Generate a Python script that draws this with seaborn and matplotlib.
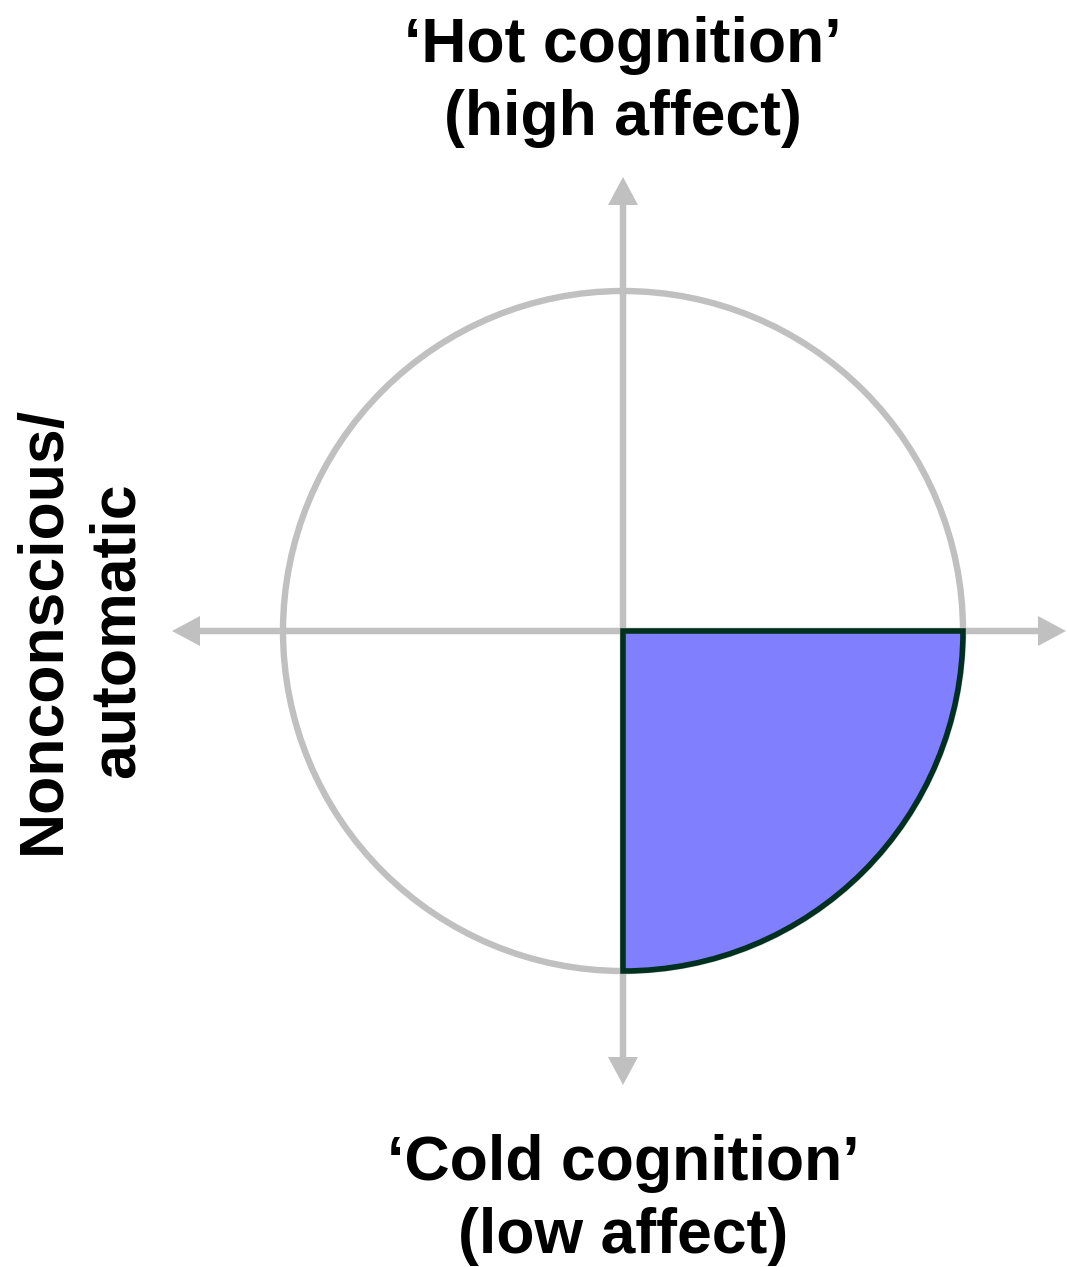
import matplotlib
matplotlib.use("Agg")
import matplotlib.pyplot as plt
import seaborn as sns
from matplotlib.patches import Circle, Wedge, FancyArrow

sns.set_theme(style="white")
plt.rcParams['font.family'] = ['Liberation Sans', 'DejaVu Sans']

# Diagram content
axis_labels_top = ["\u2018Hot cognition\u2019", "(high affect)"]
axis_labels_bottom = ["\u2018Cold cognition\u2019", "(low affect)"]
axis_labels_left = ["Nonconscious/", "automatic"]
highlight_quadrant = [270, 360]  # degrees of the highlighted wedge

W, H = 1067, 1267
fig = plt.figure(figsize=(W / 100, H / 100), dpi=100)
ax = fig.add_axes([0, 0, 1, 1])
cx, cy, R = 623, 631, 340
ax.set_xlim((0 - cx) / R, (W - cx) / R)
ax.set_ylim((cy - H) / R, cy / R)
ax.set_aspect('equal')
ax.axis('off')

gray = '#c0c0c0'
lw = 4.6

# circle
ax.add_patch(Circle((0, 0), 1.0, fill=False, ec=gray, lw=lw, zorder=1))

# axes arrows
hw = 30 / R
hl = 28 / R
w = 6.5 / R
x0, x1 = (172 - cx) / R, (1066 - cx) / R
y_top, y_bot = (cy - 177) / R, (cy - 1085) / R
for dx, dy in [(x1, 0), (x0, 0), (0, y_top), (0, y_bot)]:
    ax.add_patch(FancyArrow(0, 0, dx, dy, width=w, head_width=hw, head_length=hl,
                            length_includes_head=True, color=gray, lw=0, zorder=2))

# highlighted quadrant
ax.add_patch(Wedge((0, 0), 1.0, highlight_quadrant[0], highlight_quadrant[1],
                   fc='#8080ff', ec='#00301e', lw=4.0, zorder=3))

fs = 45
ls = 1.32
ax.text(0, (cy - 82) / R, "\n".join(axis_labels_top), ha='center', va='center',
        fontsize=fs, fontweight='bold', linespacing=ls, color='black')
ax.text(0, (cy - 1200) / R, "\n".join(axis_labels_bottom), ha='center', va='center',
        fontsize=fs, fontweight='bold', linespacing=ls, color='black')
ax.text((80 - cx) / R, (cy - 630) / R, "\n".join(axis_labels_left), ha='center', va='center',
        fontsize=fs, fontweight='bold', linespacing=ls, rotation=90, color='black')

fig.savefig("out.png", dpi=100)
